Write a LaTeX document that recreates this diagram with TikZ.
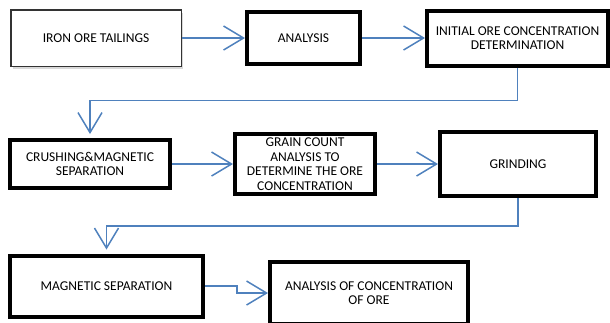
\documentclass[tikz,border=0pt]{standalone}
\usepackage{fontspec}
\setmainfont{Carlito}
\usepackage{tikz}
\usetikzlibrary{arrows.meta}
\usetikzlibrary{positioning, shadows}

\definecolor{flowblue}{RGB}{79,129,189}

\begin{document}
\begin{tikzpicture}[x=1pt,y=1pt,
        flow/.style={draw=flowblue,line width=1.5pt,-{Straight Barb[length=20pt,width=24pt,line width=1.5pt]}},
        stage/.style={draw,line width=4pt,fill=white,align=center,font=\fontsize{13.5}{13.5}\selectfont,inner sep=2pt},
        start/.style={draw=black!80,line width=1.5pt,fill=white,align=center,font=\fontsize{13.5}{13.5}\selectfont,
                      drop shadow={shadow xshift=2pt,shadow yshift=-3pt,opacity=0.3}}]

        \useasboundingbox (0,0) rectangle (610,-322);

        % first row
        \node[start, minimum width=170.5pt, minimum height=56.5pt] (iron) at (96,-38) {IRON ORE TAILINGS};
        \node[stage, minimum width=113pt, minimum height=52pt] (analysis) [right=63pt of iron] {ANALYSIS};
        \node[stage, minimum width=181pt, minimum height=55pt] (initial) [right=63pt of analysis]
                {INITIAL ORE CONCENTRATION\\DETERMINATION};

        % second row
        \node[stage, minimum width=160pt, minimum height=48pt] (crush) at (90,-164)
                {CRUSHING\&MAGNETIC\\SEPARATION};
        \node[stage, minimum width=140pt, minimum height=60pt, inner sep=0pt,
              font=\fontsize{13.5}{14.5}\selectfont] (grain) [right=61pt of crush]
                {GRAIN COUNT\\ANALYSIS TO\\DETERMINE THE ORE\\CONCENTRATION};
        \node[stage, minimum width=156pt, minimum height=64pt] (grind) [right=61pt of grain] {GRINDING};

        % third row
        \node[stage, minimum width=193pt, minimum height=61pt] (magsep) at (106.5,-286) {MAGNETIC SEPARATION};
        \node[stage, minimum width=198pt, minimum height=62pt] (anaconc) [right=63pt of magsep, yshift=-7pt]
                {ANALYSIS OF CONCENTRATION\\OF ORE};

        \path[flow]
            (iron)     edge (analysis)
            (analysis) edge (initial)
            (crush)    edge (grain)
            (grain)    edge (grind);

        \draw[flow, shorten >=4pt] (initial.south) -- ++(0,-33) -| (crush.north);
        \draw[flow, shorten >=4pt] (grind.south) -- ++(0,-28) -| (magsep.north);
        \draw[flow] (magsep.east) -- ++(32,0) |- (anaconc.west);
\end{tikzpicture}
\end{document}
